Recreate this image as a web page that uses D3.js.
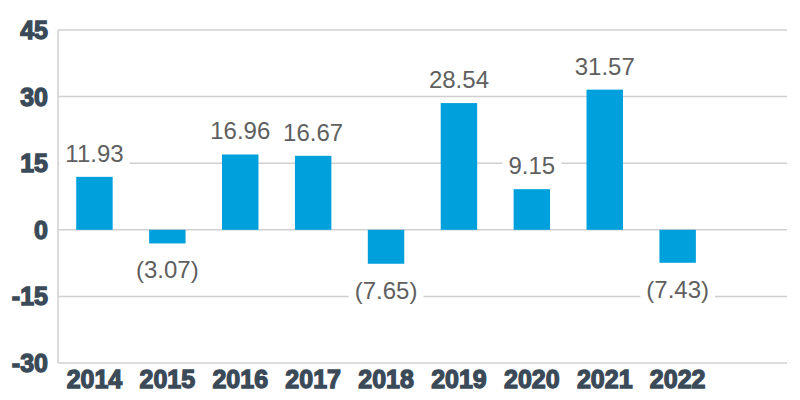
<!DOCTYPE html>
<html><head><meta charset="utf-8">
<script src="https://cdn.jsdelivr.net/npm/d3@7"></script>
<style>body{margin:0;background:#fff;}svg{display:block;}</style>
</head><body>
<script>
const categories = ["2014","2015","2016","2017","2018","2019","2020","2021","2022",""];
const values = [11.93,-3.07,16.96,16.67,-7.65,28.54,9.15,31.57,-7.43,null];
const yTicks = [-30,-15,0,15,30,45];

const W = 800, H = 400;
const m = {left:58, right:13, top:30, bottom:37};
const svg = d3.select("body").append("svg").attr("width",W).attr("height",H);

const x = d3.scaleBand().domain(categories).range([m.left, W-m.right]).paddingInner(0.5).paddingOuter(0.25);
const y = d3.scaleLinear().domain([-30,45]).range([H-m.bottom, m.top]);

// gridlines
svg.append("g").selectAll("line").data(yTicks).join("line")
  .attr("x1", m.left).attr("x2", W-m.right)
  .attr("y1", d=>y(d)).attr("y2", d=>y(d))
  .attr("stroke","#d0d0d0").attr("stroke-width",1.5);
svg.append("line").attr("x1",m.left).attr("x2",m.left).attr("y1",y(45)).attr("y2",y(-30))
  .attr("stroke","#d0d0d0").attr("stroke-width",1.5);

// y tick labels
svg.append("g").selectAll("text").data(yTicks).join("text")
  .attr("x", 48).attr("y", d=>y(d)+9)
  .attr("text-anchor","end")
  .attr("font-family","Liberation Sans, Arial, sans-serif").attr("font-weight","bold")
  .attr("font-size",25).attr("fill","#3b4a58").attr("stroke","#3b4a58").attr("stroke-width",1.3)
  .text(d=>d);

const data = categories.map((c,i)=>({c, v:values[i]})).filter(d=>d.v!==null);

// bars
svg.append("g").selectAll("rect").data(data).join("rect")
  .attr("x", d=>x(d.c)).attr("width", x.bandwidth())
  .attr("y", d=>y(Math.max(0,d.v))).attr("height", d=>Math.abs(y(d.v)-y(0)))
  .attr("fill","#00a0dc");

// value labels
const fmt = v => v<0 ? "(" + Math.abs(v).toFixed(2) + ")" : v.toFixed(2);
const lg = svg.append("g").selectAll("g").data(data).join("g")
  .attr("transform", d=>`translate(${x(d.c)+x.bandwidth()/2},${d.v>=0 ? y(d.v)-15 : y(d.v)+35})`);
lg.append("text").attr("text-anchor","middle")
  .attr("font-family","Liberation Sans, Arial, sans-serif").attr("font-size",24)
  .attr("fill","#5f5f5f").text(d=>fmt(d.v));
lg.each(function(){
  const g = d3.select(this);
  const bb = g.select("text").node().getBBox();
  g.insert("rect","text").attr("x",bb.x-6).attr("y",bb.y).attr("width",bb.width+12).attr("height",bb.height).attr("fill","#fff");
});

// x labels
svg.append("g").selectAll("text").data(data).join("text")
  .attr("x", d=>x(d.c)+x.bandwidth()/2).attr("y", 388)
  .attr("text-anchor","middle")
  .attr("font-family","Liberation Sans, Arial, sans-serif").attr("font-weight","bold")
  .attr("font-size",25).attr("fill","#3b4a58").attr("stroke","#3b4a58").attr("stroke-width",1.3)
  .text(d=>d.c);
</script>
</body></html>
